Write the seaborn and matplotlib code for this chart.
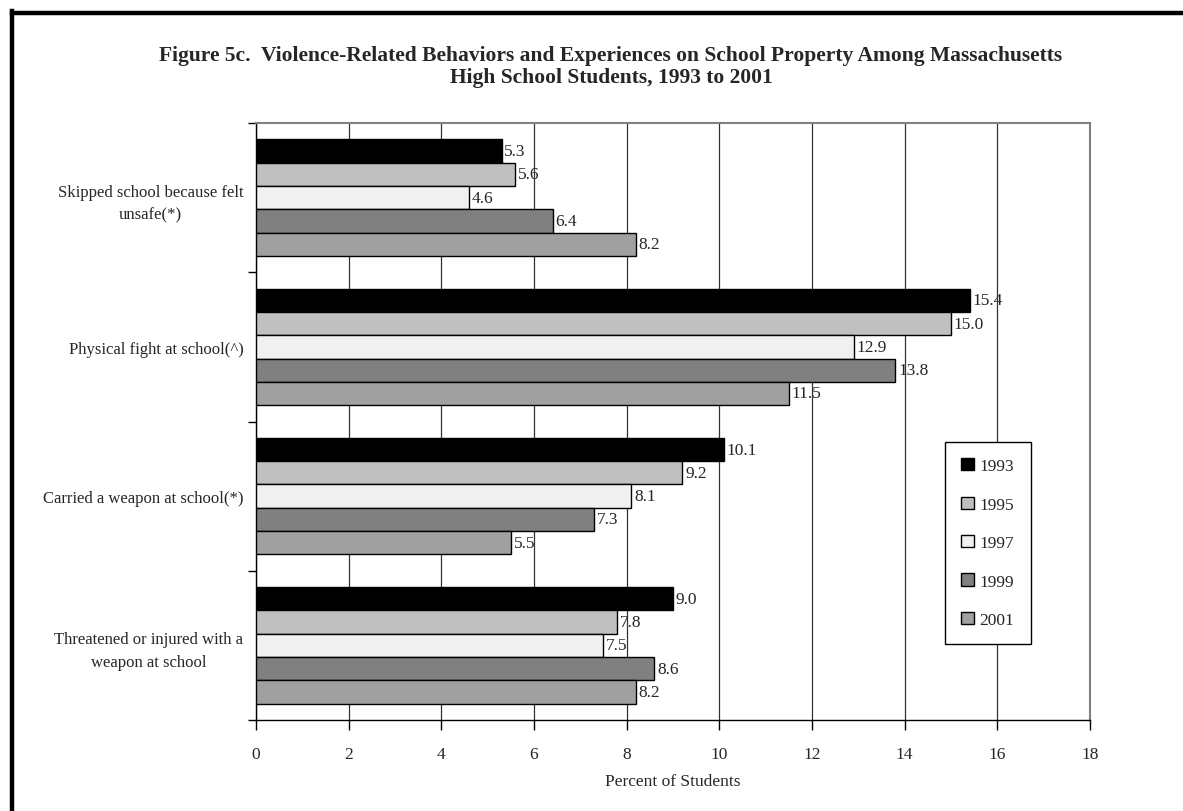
import numpy as np
import pandas as pd
import matplotlib
matplotlib.use("Agg")
import matplotlib.pyplot as plt
from matplotlib.lines import Line2D
from matplotlib.ticker import FixedLocator
import seaborn as sns

# 数据
behaviors = [
    "Skipped school because felt\nunsafe(*)",
    "Physical fight at school(^)",
    "Carried a weapon at school(*)",
    "Threatened or injured with a\nweapon at school",
]
years = ["1993", "1995", "1997", "1999", "2001"]
pct_1993 = [5.3, 15.4, 10.1, 9.0]
pct_1995 = [5.6, 15.0, 9.2, 7.8]
pct_1997 = [4.6, 12.9, 8.1, 7.5]
pct_1999 = [6.4, 13.8, 7.3, 8.6]
pct_2001 = [8.2, 11.5, 5.5, 8.2]
year_colors = ["#000000", "#c0c0c0", "#f0f0f0", "#808080", "#a0a0a0"]

series = [pct_1993, pct_1995, pct_1997, pct_1999, pct_2001]
df = pd.DataFrame(
    [(b, y, v) for y, vals in zip(years, series) for b, v in zip(behaviors, vals)],
    columns=["behavior", "year", "pct"],
)

sns.set_theme(style="white")
plt.rcParams["font.family"] = ["Liberation Serif", "DejaVu Serif"]
FS = 12.5

fig = plt.figure(figsize=(11.83, 8.12), dpi=100)
# 轴区域（像素换算）
ax = fig.add_axes([256 / 1183, 1 - 721 / 812, 834 / 1183, 597 / 812])

sns.barplot(
    data=df, y="behavior", x="pct", hue="year",
    order=behaviors, hue_order=years, palette=year_colors,
    orient="h", width=0.78, edgecolor="black", linewidth=1.0,
    saturation=1, ax=ax, zorder=3,
)

for cont in ax.containers:
    ax.bar_label(cont, fmt="%.1f", padding=2, fontsize=FS, zorder=4)

ax.set_xlim(0, 18)
ax.set_ylim(3.5, -0.5)
ax.set_xticks(np.arange(0, 19, 2))
ax.xaxis.grid(True, color="#333333", linewidth=0.9, zorder=0)
ax.yaxis.grid(False)
ax.set_axisbelow(True)

ax.yaxis.set_minor_locator(FixedLocator([-0.5, 0.5, 1.5, 2.5, 3.5]))
ax.tick_params(axis="y", which="major", length=0, pad=9, labelsize=12)
ax.tick_params(axis="y", which="minor", left=True, length=6, width=1, color="black", direction="out")
ax.tick_params(axis="x", which="major", bottom=True, length=7, width=1, color="black",
               direction="out", pad=12, labelsize=FS)
for lab in ax.get_yticklabels():
    lab.set_multialignment("center")
    lab.set_linespacing(1.55)

ax.set_ylabel("")
ax.set_xlabel("Percent of Students", fontsize=FS, labelpad=8)

for side in ["left", "bottom"]:
    ax.spines[side].set_color("black")
    ax.spines[side].set_linewidth(1.0)
for side in ["top", "right"]:
    ax.spines[side].set_color("#808080")
    ax.spines[side].set_linewidth(1.5)

leg = ax.legend(
    loc="upper left", bbox_to_anchor=(0.826, 0.466), frameon=True, fancybox=False,
    edgecolor="black", framealpha=1, fontsize=FS, handlelength=0.7, handleheight=0.7,
    handletextpad=0.35, labelspacing=1.28, borderpad=0.95, borderaxespad=0,
)
leg.get_frame().set_linewidth(1.0)

fig.text(
    0.5165, 1 - 67 / 812,
    "Figure 5c.  Violence-Related Behaviors and Experiences on School Property Among Massachusetts\n"
    "High School Students, 1993 to 2001",
    ha="center", va="center", fontsize=15.5, fontweight="bold", linespacing=1.2,
)

# 外框（左、上）
fig.add_artist(Line2D([11.5 / 1183, 11.5 / 1183], [0, 1 - 12 / 812], color="black",
                      linewidth=3.2, transform=fig.transFigure, solid_capstyle="projecting"))
fig.add_artist(Line2D([11.5 / 1183, 1], [1 - 13.5 / 812, 1 - 13.5 / 812], color="black",
                      linewidth=3.2, transform=fig.transFigure, solid_capstyle="projecting"))

fig.savefig("out.png", dpi=100, facecolor="white")
